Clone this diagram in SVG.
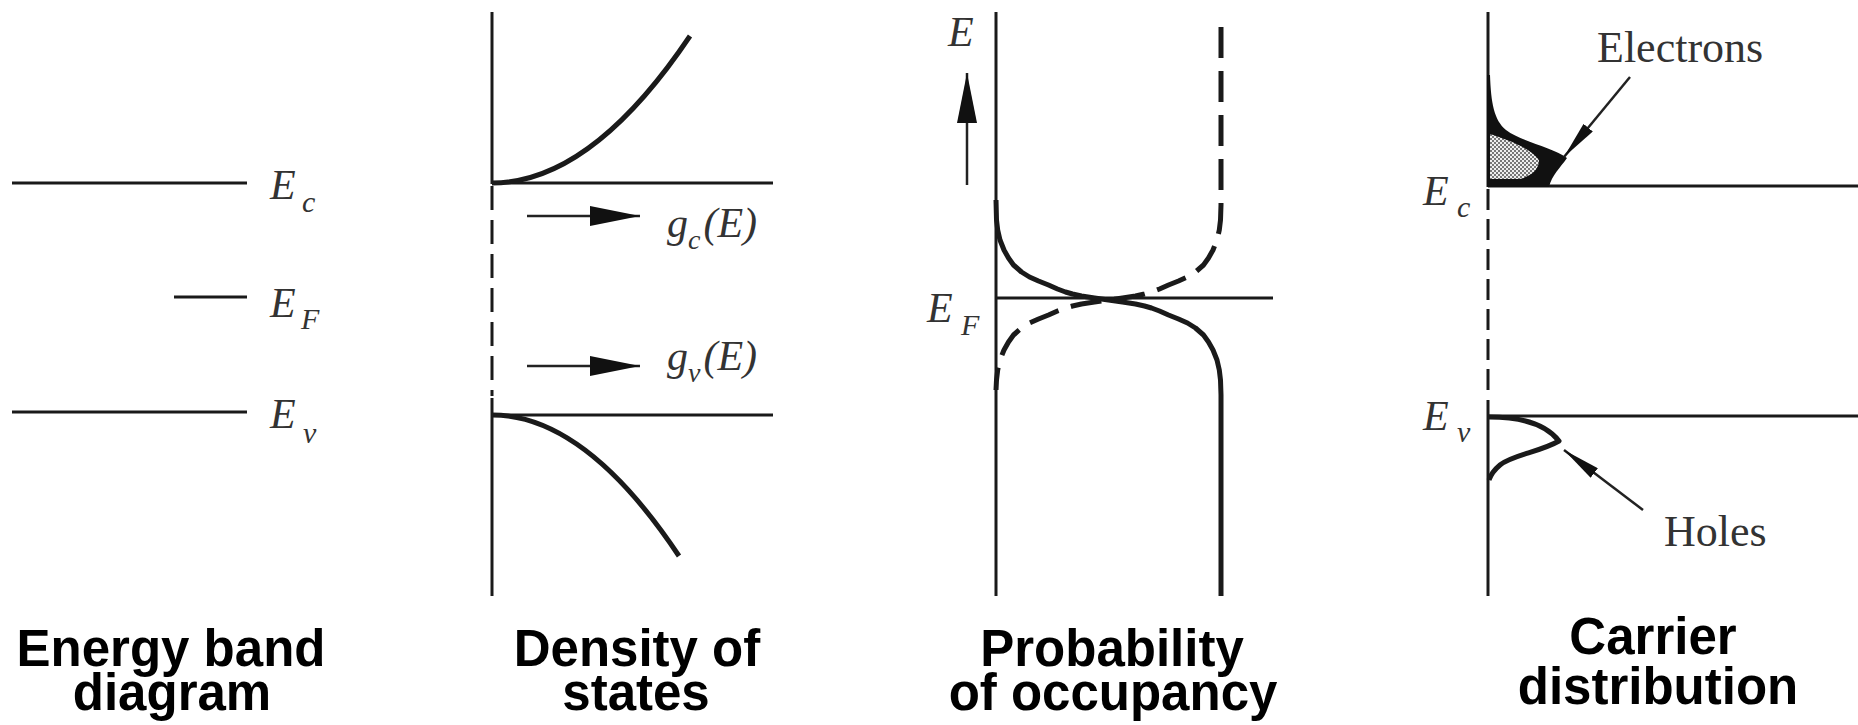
<svg xmlns="http://www.w3.org/2000/svg" width="1858" height="725" viewBox="0 0 1858 725">
<style>
.ln{stroke:#1a1a1a;stroke-width:3;fill:none}
.cv{stroke:#1a1a1a;stroke-width:5;fill:none;stroke-linejoin:round}
.thin{stroke:#222;stroke-width:2.5;fill:none}
.lab{font-family:"Liberation Serif","Times New Roman",serif;font-style:italic;font-size:42px;fill:#333}
.sub{font-size:30px}
.txt{font-family:"Liberation Serif","Times New Roman",serif;font-size:44px;fill:#333}
.cap{font-family:"Liberation Sans",Arial,sans-serif;font-weight:bold;font-size:51px;fill:#000;text-anchor:middle}
</style>
<defs>
<marker id="ah" markerUnits="userSpaceOnUse" markerWidth="50" markerHeight="20" refX="50" refY="10" orient="auto">
<path d="M0,0 L50,10 L0,20 Z" fill="#111"/>
</marker>
<marker id="ahs" markerUnits="userSpaceOnUse" markerWidth="38" markerHeight="12" refX="38" refY="6" orient="auto">
<path d="M0,0 L38,6 L0,12 Z" fill="#111"/>
</marker>
<pattern id="chk" width="4" height="4" patternUnits="userSpaceOnUse">
<rect width="4" height="4" fill="#eee"/>
<rect width="2" height="2" fill="#777"/>
<rect x="2" y="2" width="2" height="2" fill="#777"/>
</pattern>
</defs>

<g id="panel-energy-band">
<line class="ln" x1="12" y1="183" x2="247" y2="183"/>
<line class="ln" x1="174" y1="297" x2="247" y2="297"/>
<line class="ln" x1="12" y1="412" x2="247" y2="412"/>
<text class="lab" x="270" y="199">E<tspan class="sub" x="302" y="212">c</tspan></text>
<text class="lab" x="270" y="317">E<tspan class="sub" x="301" y="329">F</tspan></text>
<text class="lab" x="270" y="428">E<tspan class="sub" x="303" y="443">v</tspan></text>
<text class="cap" x="171" y="666">Energy band</text>
<text class="cap" x="172" y="710">diagram</text>
</g>

<g id="panel-density">
<line class="ln" x1="492" y1="12" x2="492" y2="184"/>
<line class="ln" x1="492" y1="186" x2="492" y2="396" stroke-dasharray="24 10"/>
<line class="ln" x1="492" y1="398" x2="492" y2="596"/>
<line class="ln" x1="492" y1="183" x2="773" y2="183"/>
<line class="ln" x1="492" y1="415" x2="773" y2="415"/>
<path class="cv" d="M492,183 Q591,183 690,36"/>
<path class="cv" d="M492,415 Q585,415 679,556"/>
<text class="lab" x="667" y="237">g<tspan font-size="28" dy="12">c</tspan><tspan dx="3" dy="-12">(E)</tspan></text>
<text class="lab" x="667" y="370">g<tspan font-size="28" dy="12">v</tspan><tspan dx="3" dy="-12">(E)</tspan></text>
<text class="cap" x="637" y="666">Density of</text>
<text class="cap" x="636" y="710">states</text>
</g>

<g id="panel-probability">
<line class="ln" x1="996" y1="12" x2="996" y2="596"/>
<line class="ln" x1="996" y1="298" x2="1273" y2="298"/>
<text class="lab" x="948" y="46">E</text>
<text class="lab" x="927" y="322">E<tspan class="sub" x="961" y="335">F</tspan></text>
<path class="cv" d="M996,200 L996.5,220 L997.7,230 L1000,240 L1004,250 L1008.5,258 L1013.5,265 L1021.5,272 L1029.5,277 L1038.5,281 L1048.5,285 L1057.5,289 L1065.5,292 L1072.5,294 L1081.5,296 L1094.5,298 L1108.5,300 L1122.5,302 L1135.5,304 L1144.5,306 L1151.5,308 L1159.5,311 L1168.5,315 L1178.5,319 L1187.5,323 L1195.5,328 L1203.5,335 L1208.5,342 L1213,350 L1217,360 L1219.3,370 L1220.5,380 L1221,395 L1221,596"/>
<path class="cv" stroke-dasharray="31 13" d="M1221,27 L1221,205 L1220.5,220 L1219.3,230 L1217,240 L1213,250 L1208.5,258 L1203.5,265 L1195.5,272 L1187.5,277 L1178.5,281 L1168.5,285 L1159.5,289 L1151.5,292 L1144.5,294 L1135.5,296 L1122.5,298 L1108.5,300 L1094.5,302 L1081.5,304 L1072.5,306 L1065.5,308 L1057.5,311 L1048.5,315 L1038.5,319 L1029.5,323 L1021.5,328 L1013.5,335 L1008.5,342 L1004,350 L1000,360 L997.7,370 L996.5,380 L996,390"/>
<text class="cap" x="1112" y="666">Probability</text>
<text class="cap" x="1113" y="710">of occupancy</text>
</g>

<g id="panel-carrier">
<line class="ln" x1="1488" y1="12" x2="1488" y2="187"/>
<line class="ln" x1="1488" y1="189" x2="1488" y2="398" stroke-dasharray="21 9"/>
<line class="ln" x1="1488" y1="400" x2="1488" y2="596"/>
<line class="ln" x1="1488" y1="186" x2="1858" y2="186"/>
<line class="ln" x1="1488" y1="416" x2="1858" y2="416"/>
<path d="M1487,75 L1490,75 C1491,103 1494,120 1506,130 C1522,142 1552,147 1567,158 C1560,168 1552,175 1549,187 L1487,187 Z" fill="#111"/>
<path d="M1490,134 C1505,139 1530,147 1539,160 C1539,170 1531,176 1520,179 L1490,179 Z" fill="url(#chk)"/>
<path class="cv" d="M1489,417 C1520,417 1545,423 1559,441 C1540,452 1512,455 1500,465 C1494,470 1491,474 1489,480"/>
<text class="lab" x="1423" y="205">E<tspan class="sub" x="1457" y="217">c</tspan></text>
<text class="lab" x="1423" y="430">E<tspan class="sub" x="1457" y="442">v</tspan></text>
<text class="txt" x="1597" y="62">Electrons</text>
<text class="txt" x="1664" y="546">Holes</text>
<text class="cap" x="1653" y="654">Carrier</text>
<text class="cap" x="1658" y="704">distribution</text>
</g>

<g id="connectors">
<line class="thin" x1="527" y1="216" x2="640" y2="216" marker-end="url(#ah)"/>
<line class="thin" x1="527" y1="366" x2="640" y2="366" marker-end="url(#ah)"/>
<line class="thin" x1="967" y1="185" x2="967" y2="73" marker-end="url(#ah)"/>
<line class="thin" x1="1630" y1="77" x2="1564" y2="157" marker-end="url(#ahs)"/>
<line class="thin" x1="1643" y1="510" x2="1564" y2="450" marker-end="url(#ahs)"/>
</g>
</svg>
